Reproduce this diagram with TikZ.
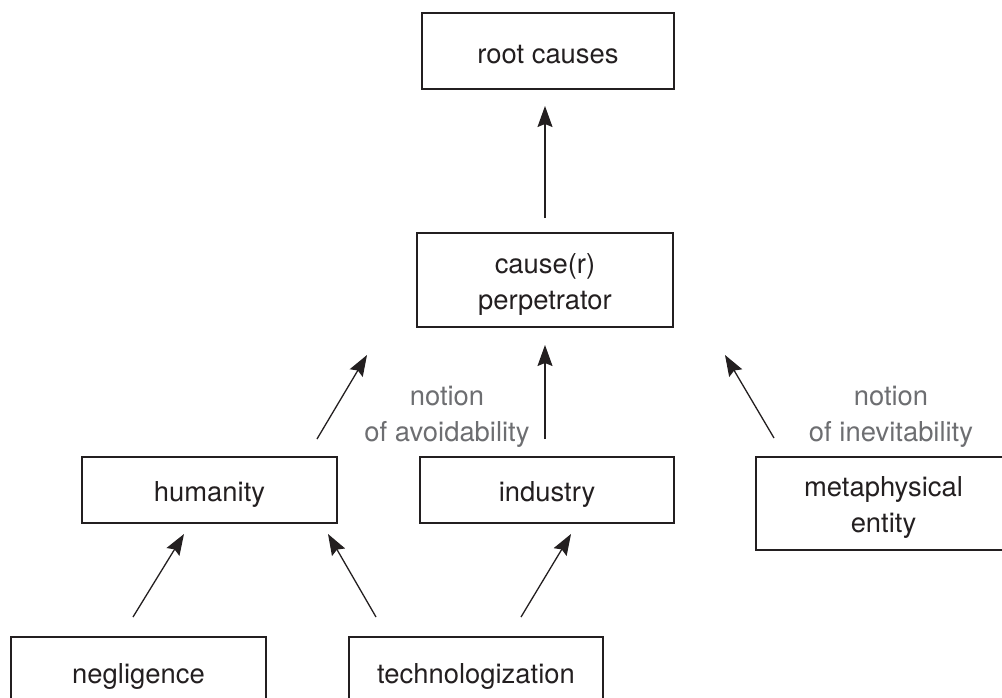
\documentclass[tikz,border=0pt]{standalone}
\usepackage{fontspec}
\setmainfont{TeX Gyre Heros}
\usetikzlibrary{arrows.meta}
\definecolor{inkdark}{HTML}{231F20}
\definecolor{notegray}{HTML}{6D6E71}
\tikzset{
  boxtext/.style={text=inkdark, align=center, inner sep=0pt,
    font=\fontsize{27.4}{36}\selectfont, yshift=-4pt},
  box/.style={draw=inkdark, line width=1.3pt, inner sep=0pt,
    label={[boxtext]center:{#1}}},
  note/.style={text=notegray, align=center, font=\fontsize{27.4}{36}\selectfont, inner sep=0pt},
  link/.style={draw=inkdark, line width=1.3pt, -{Stealth[length=21pt,width=15pt,inset=3pt]}}
}
\begin{document}
\begin{tikzpicture}[x=1pt,y=-1pt]
\useasboundingbox (0,0) rectangle (1002,698);
% boxes
\node[box={root causes}, minimum width=252pt, minimum height=76pt] (root) at (548,51) {};
\node[box={cause(r)\\perpetrator}, minimum width=256pt, minimum height=94pt] (cause) at (545,280) {};
\node[box={humanity}, minimum width=255pt, minimum height=66pt] (hum) at (209.5,490) {};
\node[box={industry}, minimum width=254pt, minimum height=66pt] (ind) at (547,490) {};
\node[box={metaphysical\\entity}, minimum width=255pt, minimum height=93pt] (meta) at (883.5,503.5) {};
\node[box={negligence}, minimum width=255pt, minimum height=70pt] (neg) at (138.5,672) {};
\node[box={technologization}, minimum width=254pt, minimum height=70pt] (tech) at (476,672) {};
% labels
\node[note] (avoid) at (447,417) {notion\\of avoidability};
\node[note] (inev) at (891,417) {notion\\of inevitability};
% arrow end points
\coordinate (c1a) at (545,218); \coordinate (c1b) at (545,106);
\coordinate (h1a) at (317,439); \coordinate (h1b) at (367,355);
\coordinate (i1a) at (545,439); \coordinate (i1b) at (545,345);
\coordinate (m1a) at (774,438); \coordinate (m1b) at (725,355);
\coordinate (n1a) at (133,617); \coordinate (n1b) at (184,534);
\coordinate (t1a) at (376,617); \coordinate (t1b) at (328,534);
\coordinate (t2a) at (521,617); \coordinate (t2b) at (571,534);
% connectors
\draw[link] (c1a) -- (c1b);
\draw[link] (h1a) -- (h1b);
\draw[link] (i1a) -- (i1b);
\draw[link] (m1a) -- (m1b);
\draw[link] (n1a) -- (n1b);
\draw[link] (t1a) -- (t1b);
\draw[link] (t2a) -- (t2b);
\end{tikzpicture}
\end{document}
